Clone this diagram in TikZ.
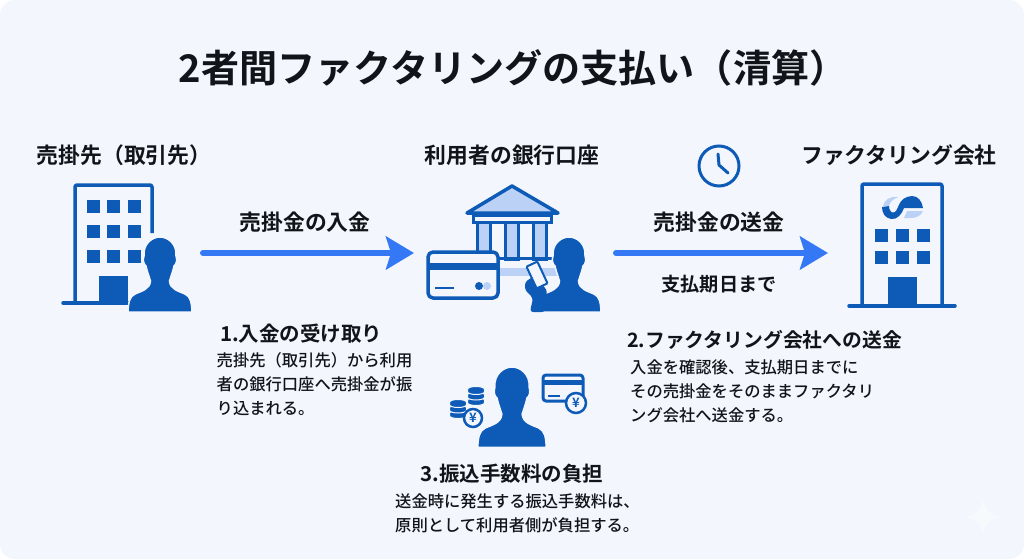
\documentclass[tikz,border=0pt]{standalone}
\usepackage{fontspec}
\usepackage{tikz}
\usetikzlibrary{arrows.meta}
\setmainfont{Noto Sans CJK JP}[BoldFont={Noto Sans CJK JP Bold}]
\newfontfamily\mediumfont{Noto Sans CJK JP Medium}

\definecolor{pagebg}{HTML}{F3F7FD}
\definecolor{darkblue}{HTML}{0D5AB7}
\definecolor{midblue}{HTML}{3478F6}
\definecolor{lightblue}{HTML}{BBD2F6}
\definecolor{inktext}{HTML}{111418}

\tikzset{
  titletext/.style={text=inktext, inner sep=0pt, font=\fontsize{38.1}{39}\selectfont\bfseries},
  headtext/.style={text=inktext, inner sep=0pt, font=\fontsize{21.8}{24}\selectfont\bfseries},
  steptext/.style={text=inktext, inner sep=0pt, font=\fontsize{20.5}{24}\selectfont\bfseries},
  subtext/.style={text=inktext, inner sep=0pt, font=\fontsize{19.2}{24}\selectfont\bfseries},
  bodytext/.style={text=inktext, inner sep=0pt, align=left, font=\fontsize{16.3}{24}\selectfont\mediumfont},
  flowarrow/.style={midblue, line width=6pt, line cap=round, -{Stealth[length=28pt,width=33pt,inset=5pt]}},
  outline/.style={darkblue, line width=3.5pt, line join=round},
  yencoin/.style={circle, draw=darkblue, fill=pagebg, line width=2.5pt, text=darkblue, inner sep=0pt, font=\fontsize{13}{13}\selectfont\bfseries},
  person/.pic={
    \fill[darkblue, draw=pagebg, line width=1.5pt] (-32,75) .. controls (-31.5,66) and (-31,60) .. (-25,57)
      .. controls (-18,54) and (-10,52) .. (-9.5,44) .. controls (-11,39) and (-13,34) .. (-14,29)
      .. controls (-17,27) and (-17,22) .. (-16,19) .. controls (-17,7) and (-8,0) .. (0,0)
      .. controls (8,0) and (17,7) .. (16,19) .. controls (17,22) and (17,27) .. (14,29)
      .. controls (13,34) and (11,39) .. (9.5,44) .. controls (10,52) and (18,54) .. (25,57)
      .. controls (31,60) and (31.5,66) .. (32,75) -- cycle;
  },
  coinstack/.pic={
    \foreach \k in {11,5.5,0}{
      \filldraw[darkblue, draw=pagebg, line width=1pt, shift={(0,\k)}] (-8.5,2.5) -- (-8.5,4.5)
        .. controls (-8.5,8.5) and (8.5,8.5) .. (8.5,4.5) -- (8.5,2.5)
        .. controls (8.5,-1.5) and (-8.5,-1.5) .. (-8.5,2.5) -- cycle;
    }
  }
}

\begin{document}
\begin{tikzpicture}[x=1pt,y=-1pt]
  \useasboundingbox (0,0) rectangle (1024,559);
  \fill[pagebg, rounded corners=15pt] (0,0) rectangle (1024,559);
  % faint sparkle
  \fill[white, opacity=0.4] (983,500) .. controls (985,510) and (990,515) .. (1000,517)
    .. controls (990,519) and (985,524) .. (983,534) .. controls (981,524) and (976,519) .. (966,517)
    .. controls (976,515) and (981,510) .. (983,500) -- cycle;

  \node[titletext] at (513,68) (title) {2者間ファクタリングの支払い（清算）};
  \node[headtext] at (124,155) (client) {売掛先（取引先）};
  \node[headtext] at (512,155) (account) {利用者の銀行口座};
  \node[headtext] at (899,155) (factor) {ファクタリング会社};

  % left building
  \draw[outline, rounded corners=2pt] (75,303) -- (75,185) -- (152,185) -- (152,233);
  \draw[outline, line cap=round] (63,303) -- (135,303);
  \foreach \x in {87,107,128}{
    \foreach \y in {200,225,250}{
      \fill[darkblue] (\x,\y) rectangle ++(12.5,13);
    }
  }
  \fill[darkblue] (99,276) rectangle (128,304.5);
  \pic at (160,237) {person};

  % bank
  \draw[outline, fill=lightblue] (512,186) -- (558,213) -- (467,213) -- cycle;
  \draw[darkblue, line width=3pt, fill=pagebg] (473,215) rectangle (551,222);
  \foreach \x in {477,505,533}{
    \draw[darkblue, line width=3pt, fill=lightblue] (\x,222) rectangle ++(13,37);
  }
  \fill[darkblue] (470,257) rectangle (556,260);
  \fill[lightblue] (490,268) rectangle (557,276);
  \draw[outline, fill=pagebg, rounded corners=5pt] (428,252) rectangle (498,298);
  \fill[darkblue] (428,263) rectangle (498,270);
  \draw[darkblue, line width=2.5pt] (435,288) -- (454,288);
  \fill[lightblue] (487,286) circle (4);
  \fill[darkblue] (479,286) circle (4);
  \pic at (569,237) {person};
  \fill[darkblue, rounded corners=3pt] (525,282) -- (534,276) -- (547,290) -- (545,312) -- (530,312) -- (533,298) -- (525,290) -- cycle;
  \draw[darkblue, line width=2pt, fill=pagebg, rounded corners=1pt, rotate around={25:(537,275)}] (531,263) rectangle (543,287);

  % clock
  \draw[darkblue, line width=3pt] (719,166) circle (20);
  \draw[darkblue, line width=3pt, line cap=round, line join=round] (718,154) -- (719,165) -- (728,173);

  % right building
  \draw[outline, rounded corners=2pt] (862,306) -- (862,184) -- (942,184) -- (942,306);
  \draw[outline, line cap=round] (849,306) -- (955,306);
  \foreach \x in {875,896,917}{
    \foreach \y in {229,251}{
      \fill[darkblue] (\x,\y) rectangle ++(12.5,13);
    }
  }
  \fill[darkblue] (888,277) rectangle (917,307);
  % logo
  \fill[lightblue] (883,206) .. controls (884,200) and (890,196) .. (898,197) .. controls (893,199) and (890,202) .. (889,206) -- cycle;
  \fill[darkblue] (882,207) -- (889,206) .. controls (889,211) and (892,214) .. (895,212)
    .. controls (899,209) and (898,197) .. (912,196) .. controls (918,196) and (922,201) .. (923,208)
    -- (904,208) .. controls (902,214) and (897,220) .. (891,219) .. controls (885,218) and (882,213) .. (882,207) -- cycle;
  \fill[lightblue] (907,211) -- (923,211) .. controls (921,216) and (916,218) .. (911,218) -- (904,218) .. controls (905,216) and (906,213) .. (907,211) -- cycle;

  % arrows
  \coordinate (inflowstart) at (203,253);
  \coordinate (inflowend) at (414,253);
  \coordinate (outflowstart) at (616,253);
  \coordinate (outflowend) at (828,253);
  \draw[flowarrow] (inflowstart) -- (inflowend);
  \draw[flowarrow] (outflowstart) -- (outflowend);
  \node[headtext] at (305,222) (inflow) {売掛金の入金};
  \node[headtext] at (719,222) (outflow) {売掛金の送金};
  \node[subtext] at (719,284) (duedate) {支払期日まで};

  % step 1
  \node[steptext, anchor=west] at (220,334) (stepone) {1.入金の受け取り};
  \node[bodytext, anchor=north west] at (216.5,352) (steponetext) {売掛先（取引先）から利用\\者の銀行口座へ売掛金が振\\り込まれる。};
  % step 2
  \node[steptext, anchor=west, font=\fontsize{19.8}{24}\selectfont\bfseries] at (627,340) (steptwo) {2.ファクタリング会社への送金};
  \node[bodytext, anchor=north west] at (630,359.5) (steptwotext) {入金を確認後、支払期日までに\\その売掛金をそのままファクタリ\\ング会社へ送金する。};

  % fee icons
  \pic[scale=1.07] at (512,367) {person};
  \pic at (476,387) {coinstack};
  \pic at (458,400) {coinstack};
  \node[yencoin, minimum size=18pt] at (473,418) (coinyen) {¥};
  \draw[outline, line width=3pt, rounded corners=3pt] (543,375) rectangle (583,401);
  \fill[darkblue] (543,380) rectangle (583,385);
  \draw[darkblue, line width=2.5pt] (548,396) -- (560,396);
  \node[yencoin, minimum size=20pt] at (576,403) (cardyen) {¥};

  % step 3
  \node[steptext] at (512,474) (stepthree) {3.振込手数料の負担};
  \node[bodytext, anchor=north west] at (395,494) (stepthreetext) {送金時に発生する振込手数料は、\\原則として利用者側が負担する。};
\end{tikzpicture}
\end{document}
